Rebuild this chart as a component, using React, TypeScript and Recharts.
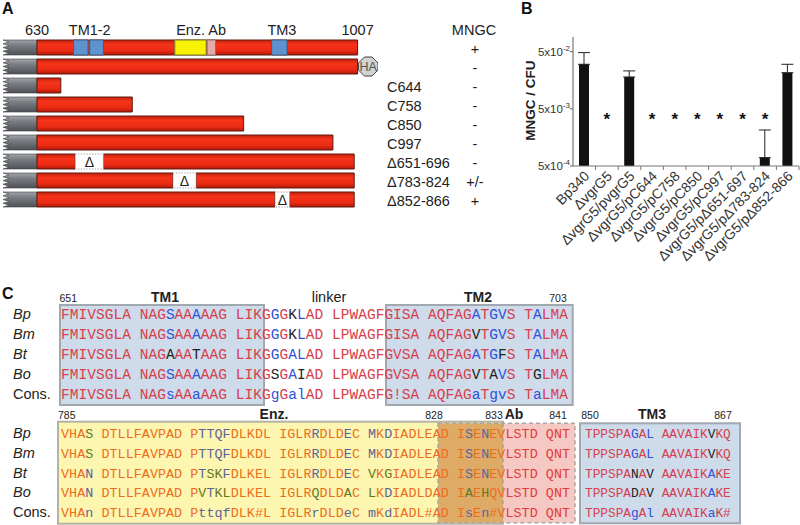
import React from 'react';
import { BarChart, Bar, XAxis, YAxis, ComposedChart, ErrorBar, Line } from 'recharts';

const SANS = '"Liberation Sans", Arial, sans-serif';
const MONO = '"Liberation Mono", "Courier New", monospace';

// ---------------- Panel A : constructs (schematic residue coordinates) ----------------
const constructRows = ['full', 'fullHA', 'C644', 'C758', 'C850', 'C997', 'd651', 'd783', 'd852'];
const constructLabels = ['', '', 'C644', 'C758', 'C850', 'C997', 'Δ651-696', 'Δ783-824', 'Δ852-866'];
const mngcScores = ['+', '-', '-', '-', '-', '-', '-', '+/-', '+'];
const stubRange = [590, 630];
const segment1End = [1007, 1007, 658, 742, 873, 978, 675, 790, 910];
const segment2 = [null, null, null, null, null, null, [708, 1003], [817, 1003], [927, 1003]];
const deletionGaps = [null, null, null, null, null, null, [675, 708], [790, 817], [910, 927]];
const haTag = [null, [1008, 1031], null, null, null, null, null, null, null];
const featureTM1 = [673, 690];
const featureTM2 = [692, 708];
const featureEnz = [792, 829];
const featureAb = [830, 840];
const featureTM3 = [906, 924];
const topAxisValues = [630, 692, 823, 918, 1007];
const topAxisTexts = ['630', 'TM1-2', 'Enz. Ab', 'TM3', '1007'];

// ---------------- Panel B : MNGC / CFU ----------------
const strains = ['Bp340', 'ΔvgrG5', 'ΔvgrG5/pvgrG5', 'ΔvgrG5/pC644', 'ΔvgrG5/pC758', 'ΔvgrG5/pC850', 'ΔvgrG5/pC997', 'ΔvgrG5/pΔ651-697', 'ΔvgrG5/pΔ783-824', 'ΔvgrG5/pΔ852-866'];
const mngcPerCfu = [0.030, null, 0.018, null, null, null, null, null, 0.0007, 0.0214];
const mngcUpper = [0.048, null, 0.023, null, null, null, null, null, 0.00213, 0.030];
const significant = [false, true, false, true, true, true, true, true, true, false];
const starLevel = 0.0039;
const yTicks = [5e-4, 5e-3, 5e-2];

// ---------------- Panel C : alignment ----------------
const speciesNames = ['Bp', 'Bm', 'Bt', 'Bo', 'Cons.'];
const block1Seqs = [
  'FMIVSGLA NAGSAAAAAG LIKGGGKLAD LPWAGFGISA AQFAGATGVS TALMA',
  'FMIVSGLA NAGSAAAAAG LIKGGGKLAD LPWAGFGISA AQFAGVTGVS TALMA',
  'FMIVSGLA NAGAAATAAG LIKGGGALAD LPWAGFGVSA AQFAGATGFS TALMA',
  'FMIVSGLA NAGSAAAAAG LIKGSGAIAD LPWAGFGVSA AQFAGVTAVS TGLMA',
  'FMIVSGLA NAGsAAaAAG LIKGgGalAD LPWAGFG!SA AQFAGaTgvS TaLMA',
];
const block1Codes = [
  'rrrrrrrr rrrbrrbrrr rrrrbrkbrr rrrrrrrrrr rrrrrbrbbr rbrrr',
  'rrrrrrrr rrrbrrbrrr rrrrbrkbrr rrrrrrrrrr rrrrrkrbbr rbrrr',
  'rrrrrrrr rrrkrrkrrr rrrrbrbbrr rrrrrrrrrr rrrrrbrbkr rbrrr',
  'rrrrrrrr rrrbrrbrrr rrrrkrbkrr rrrrrrrrrr rrrrrkrkbr rkrrr',
  'rrrrrrrr rrrbrrbrrr rrrrbrbbrr rrrrrrrrrr rrrrrbrbbr rbrrr',
];
const block2Seqs = [
  'VHAS DTLLFAVPAD PTTQFDLKDL IGLRRDLDEC MKDIADLEAD ISENEVLSTD QNT',
  'VHAS DTLLFAVPAD PTTQFDLKDL IGLRRDLDEC MKDIADLEAD ISENEVLSTD QNT',
  'VHAN DTLLFAVPAD PTSKFDLKEL IGLRRDLDEC VKGIADLEAD ISENEVLSTD QNT',
  'VHAN DTLLFAVPAD PVTKLDLKEL IGLRQDLDAC LKDIADLDAD IAEHQVLSTD QNT',
  'VHAn DTLLFAVPAD PttqfDLK#L IGLRrDLDeC mKdIADL#AD IsEn#VLSTD QNT',
];
const block2Codes = [
  'rrrk rrrrrrrrrr rbbbbrrrrr rrrrbrrrbr brbrrrrrrr rbrbrrrrrr rrr',
  'rrrk rrrrrrrrrr rbbbbrrrrr rrrrbrrrbr brbrrrrrrr rbrbrrrrrr rrr',
  'rrrb rrrrrrrrrr rbkkbrrrrr rrrrbrrrbr krkrrrrrrr rbrbrrrrrr rrr',
  'rrrb rrrrrrrrrr rkbkkrrrrr rrrrkrrrkr krbrrrrrrr rkrkrrrrrr rrr',
  'rrrb rrrrrrrrrr rbbbbrrrrr rrrrbrrrbr brbrrrrrrr rbrbrrrrrr rrr',
];
const block2AbStart = 55;
const block3Seqs = [
  'TPPSPAGAL AAVAIKVKQ',
  'TPPSPAGAL AAVAIKVKQ',
  'TPPSPANAV AAVAIKAKE',
  'TPPSPADAV AAVAIKAKE',
  'TPPSPAgAl AAVAIKaK#',
];
const block3Codes = [
  'rrrrrrbrb rrrrrrkrr',
  'rrrrrrbrb rrrrrrkrr',
  'rrrrrrkrk rrrrrrbrr',
  'rrrrrrkrk rrrrrrbrr',
  'rrrrrrbrb rrrrrrbrr',
];

// ---------------- build tables ----------------
const panelAData = constructRows.map((name, i) => ({
  name,
  stub: stubRange,
  seg1: [stubRange[1], segment1End[i]],
  seg2: segment2[i],
  gap: deletionGaps[i],
  ha: haTag[i],
  tm1: i === 0 ? featureTM1 : null,
  tm2: i === 0 ? featureTM2 : null,
  enz: i === 0 ? featureEnz : null,
  ab: i === 0 ? featureAb : null,
  tm3: i === 0 ? featureTM3 : null,
}));

const panelBData = strains.map((strain, i) => ({
  strain,
  ratio: mngcPerCfu[i],
  err: mngcPerCfu[i] != null ? [0, (mngcUpper[i] as number) - (mngcPerCfu[i] as number)] : null,
  star: significant[i] ? starLevel : null,
}));

// ---------------- shapes & ticks ----------------
const StubShape = (p: any) => {
  const { x, y, width, height } = p;
  if (width == null || isNaN(x)) return <g />;
  const n = 4, d = 6, seg = height / n;
  let path = `M${x + width},${y} L${x + width},${y + height} L${x},${y + height}`;
  for (let k = 0; k < n; k++) {
    path += ` L${x + d},${y + height - (k + 0.5) * seg} L${x},${y + height - (k + 1) * seg}`;
  }
  path += ' Z';
  return <path d={path} fill="url(#grayGrad)" stroke="#3e4044" strokeWidth={0.6} />;
};

const GapShape = (p: any) => {
  const { x, y, width, height } = p;
  if (width == null || isNaN(x)) return <g />;
  return (
    <g>
      <rect x={x} y={y} width={width} height={height} fill="#fff" stroke="#999" strokeWidth={1} strokeDasharray="1.2 1.6" />
      <text x={x + width / 2} y={y + height / 2 + 5} textAnchor="middle" fontSize={14} fill="#222" fontFamily={SANS}>Δ</text>
    </g>
  );
};

const HaShape = (p: any) => {
  const { x, y, width, height } = p;
  if (width == null || isNaN(x)) return <g />;
  const t = y - 2, b = y + height + 2, c = 6;
  const pts = [
    [x + c, t], [x + width - c, t], [x + width, t + c], [x + width, b - c],
    [x + width - c, b], [x + c, b], [x, b - c], [x, t + c],
  ].map((q) => q.join(',')).join(' ');
  return (
    <g>
      <polygon points={pts} fill="#d2d2d2" stroke="#444" strokeWidth={1} />
      <text x={x + width / 2} y={y + height / 2 + 4.5} textAnchor="middle" fontSize={12.5} fill="#555" fontFamily={SANS}>HA</text>
    </g>
  );
};

const TopTick = (p: any) => {
  const { x, y, payload } = p;
  const idx = topAxisValues.indexOf(payload.value);
  return (
    <text x={x} y={y - 3} textAnchor="middle" fontSize={14.5} fill="#222" fontFamily={SANS}>
      {idx >= 0 ? topAxisTexts[idx] : ''}
    </text>
  );
};

const ConstructTick = (p: any) => {
  const { x, y, payload } = p;
  const i = constructRows.indexOf(payload.value);
  return (
    <g fontFamily={SANS} fontSize={14.5} fill="#222">
      <text x={x + 9} y={y + 6}>{constructLabels[i]}</text>
      <text x={x + 97} y={y + 6} textAnchor="middle">{mngcScores[i]}</text>
    </g>
  );
};

const StrainTick = (p: any) => {
  const { x, y, payload, width, visibleTicksCount } = p;
  const band = width && visibleTicksCount ? width / visibleTicksCount : 22.6;
  const tx = x + 6, ty = y + 11;
  return (
    <g>
      <line x1={x + band / 2} x2={x + band / 2} y1={y} y2={y + 4} stroke="#777" strokeWidth={1} />
      <text x={tx} y={ty} transform={`rotate(-45 ${tx} ${ty})`} textAnchor="end" fontSize={14} fill="#333" fontFamily={SANS}>
        {payload.value}
      </text>
    </g>
  );
};

const PowerTick = (p: any) => {
  const { x, y, payload } = p;
  const exp = Math.round(Math.log10(payload.value / 5));
  return (
    <text x={x} y={y + 4} textAnchor="end" fontSize={11.5} fill="#333" fontFamily={SANS}>
      5x10<tspan dy={-5} fontSize={8}>{String(exp)}</tspan>
    </text>
  );
};

const StarDot = (p: any) => {
  const { cx, cy, value, index } = p;
  if (value == null || cy == null || isNaN(cy)) return <g key={`s${index}`} />;
  return (
    <text key={`s${index}`} x={cx} y={cy + 10} textAnchor="middle" fontSize={17} fontWeight="bold" fill="#111" fontFamily={SANS}>*</text>
  );
};

// ---------------- alignment block ----------------
const SeqBlock = ({ seqs, codes, x0, cw, fs, baselines, colorFor }: any) => (
  <g fontFamily={MONO} fontSize={fs}>
    {seqs.map((s: string, r: number) => (
      <text key={r}>
        {s.split('').map((ch, i) =>
          ch === ' ' ? null : (
            <tspan key={i} x={x0 + i * cw} y={baselines[r]} fill={colorFor(codes[r][i], i)}>{ch}</tspan>
          )
        )}
      </text>
    ))}
  </g>
);

const b1Color = (c: string) => (c === 'r' ? '#d8404c' : c === 'b' ? '#2f52dc' : '#222');
const b2Color = (c: string, i: number) =>
  c === 'r' ? (i >= block2AbStart ? '#e33b3b' : '#ee6c1e') : c === 'b' ? '#5d6397' : '#66771c';
const b3Color = (c: string) => (c === 'r' ? '#d6404f' : c === 'b' ? '#2f52dc' : '#222');

const base1 = [318.5, 338.5, 358.5, 378.7, 399];
const base2 = [437.5, 457.5, 477.5, 497, 517];

const seriesAxisIds = ['s1', 's2', 'gap', 'ha', 'tm1', 'tm2', 'enz', 'ab', 'tm3'];

export default function App() {
  return (
    <div style={{ position: 'absolute', left: 0, top: 0, width: 800, height: 525, background: '#fff', overflow: 'hidden', fontFamily: SANS }}>
      <svg width={800} height={525} style={{ position: 'absolute', left: 0, top: 0 }}>
        <defs>
          <linearGradient id="redGrad" x1="0" y1="0" x2="0" y2="1">
            <stop offset="0" stopColor="#c51f0d" />
            <stop offset="0.3" stopColor="#f5341a" />
            <stop offset="0.7" stopColor="#ec2b13" />
            <stop offset="1" stopColor="#b0190a" />
          </linearGradient>
          <linearGradient id="grayGrad" x1="0" y1="0" x2="0" y2="1">
            <stop offset="0" stopColor="#a2a5aa" />
            <stop offset="0.35" stopColor="#7a7d82" />
            <stop offset="1" stopColor="#4e5155" />
          </linearGradient>
        </defs>
      </svg>

      {/* Panel A */}
      <div style={{ position: 'absolute', left: 0, top: 0 }}>
        <BarChart width={500} height={215} data={panelAData} layout="vertical" margin={{ top: 8, right: 0, bottom: 6, left: 3 }}>
          <XAxis type="number" orientation="top" domain={[590, 1031]} allowDataOverflow ticks={topAxisValues} interval={0}
            axisLine={false} tickLine={false} tickSize={0} tickMargin={0} height={30} tick={TopTick} />
          {seriesAxisIds.map((id) => (
            <YAxis key={id} yAxisId={id} type="category" dataKey="name" hide />
          ))}
          <YAxis yAxisId="labels" orientation="right" type="category" dataKey="name" width={122} interval={0}
            axisLine={false} tickLine={false} tickSize={0} tickMargin={0} tick={ConstructTick} />
          <Bar yAxisId="labels" dataKey="stub" barSize={15} shape={StubShape} isAnimationActive={false} />
          <Bar yAxisId="s1" dataKey="seg1" barSize={15} fill="url(#redGrad)" stroke="#5e1a10" strokeWidth={1} isAnimationActive={false} />
          <Bar yAxisId="s2" dataKey="seg2" barSize={15} fill="url(#redGrad)" stroke="#5e1a10" strokeWidth={1} isAnimationActive={false} />
          <Bar yAxisId="gap" dataKey="gap" barSize={15} shape={GapShape} isAnimationActive={false} />
          <Bar yAxisId="ha" dataKey="ha" barSize={15} shape={HaShape} isAnimationActive={false} />
          <Bar yAxisId="tm1" dataKey="tm1" barSize={15} fill="#5f93cf" stroke="#3b5e86" isAnimationActive={false} />
          <Bar yAxisId="tm2" dataKey="tm2" barSize={15} fill="#5f93cf" stroke="#3b5e86" isAnimationActive={false} />
          <Bar yAxisId="enz" dataKey="enz" barSize={15} fill="#f7f200" stroke="#7a7a30" isAnimationActive={false} />
          <Bar yAxisId="ab" dataKey="ab" barSize={15} fill="#e6aaaa" stroke="#8a6a6a" isAnimationActive={false} />
          <Bar yAxisId="tm3" dataKey="tm3" barSize={15} fill="#5f93cf" stroke="#3b5e86" isAnimationActive={false} />
        </BarChart>
      </div>

      {/* Panel B */}
      <div style={{ position: 'absolute', left: 500, top: 0 }}>
        <ComposedChart width={300} height={290} data={panelBData} margin={{ top: 37, right: 1, bottom: 0, left: 0 }}>
          <XAxis dataKey="strain" type="category" height={124} interval={0} tickSize={0} tickMargin={0} tickLine={false}
            stroke="#777" strokeWidth={1.2} tick={StrainTick} />
          <YAxis type="number" scale="log" domain={[5e-4, 0.09]} allowDataOverflow ticks={yTicks} interval={0} width={73}
            tickSize={3} tickMargin={0} stroke="#777" strokeWidth={1.2} tick={PowerTick} />
          <Bar dataKey="ratio" barSize={10} fill="#111" isAnimationActive={false}>
            <ErrorBar dataKey="err" width={6} stroke="#222" strokeWidth={1} direction="y" isAnimationActive={false} />
          </Bar>
          <Line dataKey="star" stroke="none" dot={StarDot} activeDot={false} isAnimationActive={false} legendType="none" />
        </ComposedChart>
      </div>

      {/* Overlay: panel letters, headers, panel C */}
      <svg width={800} height={525} style={{ position: 'absolute', left: 0, top: 0 }}>
        <g fontFamily={SANS} fontWeight="bold" fontSize={16} fill="#111">
          <text x={2} y={14}>A</text>
          <text x={521} y={14}>B</text>
          <text x={2} y={299}>C</text>
        </g>
        <text x={474} y={35} textAnchor="middle" fontSize={14.5} fill="#222" fontFamily={SANS}>MNGC</text>
        <text x={535} y={100.5} transform="rotate(-90 535 100.5)" textAnchor="middle" fontSize={13.5} fontWeight="bold" fill="#222" fontFamily={SANS}>MNGC / CFU</text>

        {/* Panel C boxes */}
        <rect x={60} y={305} width={204} height={100} fill="#cddbeb" stroke="#a2a8b0" strokeWidth={2} />
        <rect x={386} y={305} width={186.7} height={100} fill="#cddbeb" stroke="#a2a8b0" strokeWidth={2} />
        <rect x={58} y={421.7} width={445} height={102} fill="#fcf6b0" stroke="#b4b4a4" strokeWidth={2} />
        <rect x={438} y={423.3} width={65} height={99.4} fill="#deab66" />
        <rect x={503} y={423.3} width={72} height={99.4} fill="#f6c8c3" />
        <rect x={438} y={423.3} width={137} height={99.4} fill="none" stroke="#a8a8a8" strokeWidth={1.5} strokeDasharray="4 3" />
        <line x1={503} y1={423.3} x2={503} y2={522.7} stroke="#999" strokeWidth={1.2} strokeDasharray="4 3" />
        <rect x={580} y={423.3} width={160} height={100} fill="#cddbeb" stroke="#a2a8b0" strokeWidth={2} />

        {/* Panel C headers */}
        <g fontFamily={SANS} fill="#222">
          <text x={59.5} y={301.5} fontSize={10.5}>651</text>
          <text x={165} y={301.5} fontSize={14} fontWeight="bold" textAnchor="middle">TM1</text>
          <text x={329} y={301.5} fontSize={14.5} textAnchor="middle">linker</text>
          <text x={478} y={301.5} fontSize={14} fontWeight="bold" textAnchor="middle">TM2</text>
          <text x={558} y={301.5} fontSize={10.5} textAnchor="middle">703</text>
          <text x={58} y={418.5} fontSize={10.5}>785</text>
          <text x={274} y={418.5} fontSize={14} fontWeight="bold" textAnchor="middle">Enz.</text>
          <text x={434} y={418.5} fontSize={10.5} textAnchor="middle">828</text>
          <text x={494} y={418.5} fontSize={10.5} textAnchor="middle">833</text>
          <text x={514} y={418.5} fontSize={14} fontWeight="bold" textAnchor="middle">Ab</text>
          <text x={558} y={418.5} fontSize={10.5} textAnchor="middle">841</text>
          <text x={590} y={418.5} fontSize={10.5} textAnchor="middle">850</text>
          <text x={652} y={418.5} fontSize={14} fontWeight="bold" textAnchor="middle">TM3</text>
          <text x={723} y={418.5} fontSize={10.5} textAnchor="middle">867</text>
        </g>

        {/* Row names */}
        <g fontFamily={SANS} fontSize={14.5} fill="#222">
          {speciesNames.map((n, i) => (
            <text key={`a${i}`} x={13} y={base1[i]} fontStyle={i < 4 ? 'italic' : 'normal'}>{n}</text>
          ))}
          {speciesNames.map((n, i) => (
            <text key={`b${i}`} x={13} y={base2[i]} fontStyle={i < 4 ? 'italic' : 'normal'}>{n}</text>
          ))}
        </g>

        <SeqBlock seqs={block1Seqs} codes={block1Codes} x0={61} cw={8.74} fs={14.5} baselines={base1} colorFor={b1Color} />
        <SeqBlock seqs={block2Seqs} codes={block2Codes} x0={61} cw={8.08} fs={13.4} baselines={base2} colorFor={b2Color} />
        <SeqBlock seqs={block3Seqs} codes={block3Codes} x0={585} cw={7.67} fs={12.8} baselines={base2} colorFor={b3Color} />
      </svg>
    </div>
  );
}
